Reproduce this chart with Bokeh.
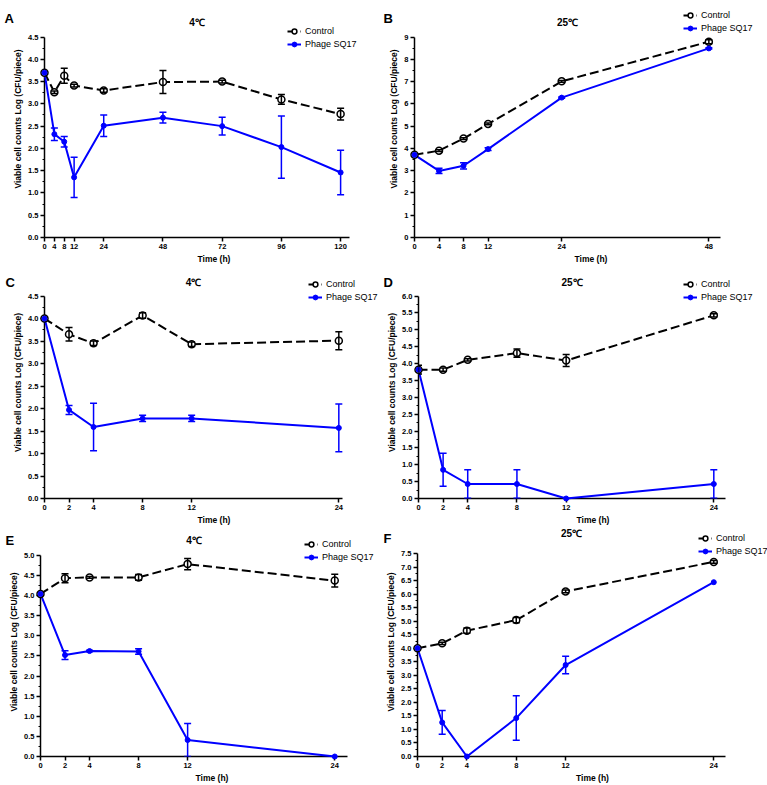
from bokeh.plotting import figure
from bokeh.models import (ColumnDataSource, Whisker, TeeHead, Legend, LegendItem,
                          Label, Range1d, FixedTicker, NumeralTickFormatter)
from bokeh.layouts import column, row
from bokeh.embed import file_html
from bokeh.resources import INLINE
from bokeh.core.properties import value

# ---------------- data ----------------
a_time = [0, 4, 8, 12, 24, 48, 72, 96, 120]
a_ctrl = [3.70, 3.26, 3.63, 3.41, 3.30, 3.49, 3.50, 3.10, 2.77]
a_ctrl_err = [0, 0.03, 0.17, 0.03, 0.04, 0.26, 0.03, 0.11, 0.13]
a_phage = [3.70, 2.32, 2.15, 1.35, 2.51, 2.69, 2.50, 2.03, 1.46]
a_phage_err = [0, 0.14, 0.12, 0.45, 0.24, 0.12, 0.20, 0.70, 0.50]
a_xticks = [0, 4, 8, 12, 24, 48, 72, 96, 120]
a_yticks = [0, 0.5, 1.0, 1.5, 2.0, 2.5, 3.0, 3.5, 4.0, 4.5]

b_time = [0, 4, 8, 12, 24, 48]
b_ctrl = [3.71, 3.90, 4.44, 5.10, 7.01, 8.79]
b_ctrl_err = [0, 0.04, 0.04, 0.04, 0.04, 0.09]
b_phage = [3.71, 2.99, 3.22, 3.97, 6.28, 8.49]
b_phage_err = [0, 0.12, 0.14, 0.06, 0.03, 0.03]
b_xticks = [0, 4, 8, 12, 24, 48]
b_yticks = [0, 1, 2, 3, 4, 5, 6, 7, 8, 9]

c_time = [0, 2, 4, 8, 12, 24]
c_ctrl = [4.00, 3.65, 3.45, 4.07, 3.43, 3.51]
c_ctrl_err = [0, 0.15, 0.05, 0.06, 0.05, 0.20]
c_phage = [4.00, 1.97, 1.59, 1.78, 1.78, 1.57]
c_phage_err = [0, 0.10, 0.53, 0.07, 0.07, 0.53]
c_xticks = [0, 2, 4, 8, 12, 24]
c_yticks = [0, 0.5, 1.0, 1.5, 2.0, 2.5, 3.0, 3.5, 4.0, 4.5]

d_time = [0, 2, 4, 8, 12, 24]
d_ctrl = [3.82, 3.82, 4.11, 4.31, 4.09, 5.43]
d_ctrl_err = [0.13, 0.05, 0.03, 0.12, 0.18, 0.05]
d_phage = [3.82, 0.85, 0.43, 0.43, 0.0, 0.43]
d_phage_err = [0, 0.49, 0.42, 0.42, 0, 0.42]
d_xticks = [0, 2, 4, 8, 12, 24]
d_yticks = [0, 0.5, 1.0, 1.5, 2.0, 2.5, 3.0, 3.5, 4.0, 4.5, 5.0, 5.5, 6.0]

e_time = [0, 2, 4, 8, 12, 24]
e_ctrl = [4.04, 4.43, 4.45, 4.45, 4.78, 4.37]
e_ctrl_err = [0, 0.11, 0.02, 0.07, 0.14, 0.16]
e_phage = [4.04, 2.52, 2.62, 2.61, 0.41, 0.0]
e_phage_err = [0, 0.11, 0.02, 0.07, 0.41, 0]
e_xticks = [0, 2, 4, 8, 12, 24]
e_yticks = [0, 0.5, 1.0, 1.5, 2.0, 2.5, 3.0, 3.5, 4.0, 4.5, 5.0]

f_time = [0, 2, 4, 8, 12, 24]
f_ctrl = [4.00, 4.18, 4.65, 5.04, 6.10, 7.19]
f_ctrl_err = [0, 0.04, 0.10, 0.10, 0.05, 0.05]
f_phage = [4.00, 1.26, 0.0, 1.42, 3.38, 6.44]
f_phage_err = [0, 0.44, 0, 0.82, 0.32, 0]
f_xticks = [0, 2, 4, 8, 12, 24]
f_yticks = [0, 0.5, 1.0, 1.5, 2.0, 2.5, 3.0, 3.5, 4.0, 4.5, 5.0, 5.5, 6.0, 6.5, 7.0, 7.5]

titles = ["4℃", "25℃", "4℃", "25℃", "4℃", "25℃"]
letters = ["A", "B", "C", "D", "E", "F"]
series_names = ["Control", "Phage SQ17"]
x_label = "Time (h)"
y_label = "Viable cell counts Log (CFU/piece)"

# ---------------- styling / geometry (pixels, local to each figure) ----------------
FONT = "Liberation Sans"
BLUE = "#0000ff"

# al/ar/at/ab: axis box edges; xmax: data value at axis right end
# ty: title centre y; lx/ly: letter x / baseline; gx/gy: legend top-left
GEOM = [
    dict(W=383, H=266, al=44, ar=349, at=37, ab=240, xmax=123.6, ty=22, lx=4, ly=18, gx=287, gy=28, yfmt="0.0"),
    dict(W=384, H=266, al=31, ar=337, at=37, ab=240, xmax=49.9, ty=22, lx=0, ly=18, gx=300, gy=12, yfmt="0"),
    dict(W=383, H=261, al=44, ar=342, at=30, ab=235, xmax=24.3, ty=16, lx=5, ly=16, gx=308, gy=15, yfmt="0.0"),
    dict(W=384, H=261, al=35, ar=342, at=30, ab=235, xmax=24.95, ty=16, lx=0, ly=16, gx=300, gy=15, yfmt="0.0"),
    dict(W=383, H=258, al=40, ar=347, at=28, ab=231, xmax=25.04, ty=13, lx=5, ly=13, gx=304, gy=13, yfmt="0.0"),
    dict(W=384, H=258, al=34, ar=342, at=26, ab=229, xmax=24.95, ty=6, lx=0, ly=11, gx=315, gy=5, yfmt="0.0"),
]


def whisker_source(t, y, err):
    idx = [i for i, e in enumerate(err) if e > 0]
    return ColumnDataSource(dict(
        x=[t[i] for i in idx],
        upper=[y[i] + err[i] for i in idx],
        lower=[max(0.0, y[i] - err[i]) for i in idx],
    ))


def make_panel(t, ctrl, ctrl_err, phage, phage_err, xticks, yticks, title, letter, g):
    W, H = g["W"], g["H"]
    al, ar, at, ab = g["al"], g["ar"], g["at"], g["ab"]
    xmax = g["xmax"]
    ymax = yticks[-1]
    pxu_x = (ar - al) / xmax
    pxu_y = (ab - at) / ymax
    x_end = xmax + (W - ar) / pxu_x
    y_end = ymax + at / pxu_y
    p = figure(width=W, height=H, output_backend="svg", toolbar_location=None, title=None,
               x_range=Range1d(0, x_end), y_range=Range1d(0, y_end),
               min_border_left=al, min_border_right=0,
               min_border_top=0, min_border_bottom=H - ab)
    p.outline_line_color = None
    p.xgrid.visible = False
    p.ygrid.visible = False
    p.background_fill_color = "white"
    p.border_fill_color = "white"

    # axes
    p.xaxis.ticker = FixedTicker(ticks=xticks, minor_ticks=[])
    ymid = [(yticks[i] + yticks[i + 1]) / 2 for i in range(len(yticks) - 1)]
    p.yaxis.ticker = FixedTicker(ticks=yticks, minor_ticks=ymid)
    p.yaxis.formatter = NumeralTickFormatter(format=g["yfmt"])
    p.xaxis.bounds = (0, xmax)
    p.yaxis.bounds = (0, ymax)
    p.xaxis.axis_label = x_label
    p.yaxis.axis_label = y_label
    for ax in (p.xaxis[0], p.yaxis[0]):
        ax.axis_line_color = "black"
        ax.axis_line_width = 1.5
        ax.major_tick_line_color = "black"
        ax.major_tick_line_width = 1.5
        ax.major_tick_out = 4
        ax.major_tick_in = 0
        ax.minor_tick_line_color = "black"
        ax.minor_tick_line_width = 1
        ax.minor_tick_out = 2
        ax.minor_tick_in = 0
        ax.major_label_text_font = FONT
        ax.major_label_text_font_style = "bold"
        ax.major_label_text_font_size = "7.5px"
        ax.major_label_text_color = "black"
        ax.major_label_standoff = 2
        ax.axis_label_text_font = FONT
        ax.axis_label_text_font_style = "bold"
        ax.axis_label_text_font_size = "8.5px"
        ax.axis_label_text_color = "black"
        ax.axis_label_standoff = 2

    cs = ColumnDataSource(dict(x=t, y=ctrl))
    ps = ColumnDataSource(dict(x=t, y=phage))

    lc = p.line("x", "y", source=cs, line_color="black", line_width=2,
                line_dash="9 4", level="overlay")
    lp = p.line("x", "y", source=ps, line_color=BLUE, line_width=2, level="overlay")

    wc = Whisker(source=whisker_source(t, ctrl, ctrl_err), base="x", upper="upper", lower="lower",
                 line_color="black", line_width=1.5, level="overlay",
                 upper_head=TeeHead(size=7, line_color="black", line_width=1.5),
                 lower_head=TeeHead(size=7, line_color="black", line_width=1.5))
    wp = Whisker(source=whisker_source(t, phage, phage_err), base="x", upper="upper", lower="lower",
                 line_color=BLUE, line_width=1.5, level="overlay",
                 upper_head=TeeHead(size=7, line_color=BLUE, line_width=1.5),
                 lower_head=TeeHead(size=7, line_color=BLUE, line_width=1.5))
    p.add_layout(wc)
    p.add_layout(wp)

    sc = p.scatter("x", "y", source=cs, marker="circle", size=7, fill_color="white",
                   line_color="black", line_width=1.5, level="overlay")
    sp = p.scatter("x", "y", source=ps, marker="circle", size=5, fill_color=BLUE,
                   line_color=BLUE, line_width=1, level="overlay")

    # legend (top-left given in local px; location is relative to frame bottom-left)
    leg_h = 12 * 2 + 1
    legend = Legend(items=[LegendItem(label=series_names[0], renderers=[lc, sc]),
                           LegendItem(label=series_names[1], renderers=[lp, sp])],
                    location=(g["gx"] - al, ab - g["gy"] - leg_h),
                    glyph_width=14, glyph_height=12, label_height=12, label_width=10,
                    label_standoff=4, spacing=1, padding=0, margin=0,
                    label_text_font=FONT, label_text_font_size="9px",
                    label_text_color="black",
                    border_line_alpha=0, background_fill_alpha=0)
    p.add_layout(legend)

    # panel title (inside the enlarged frame)
    p.add_layout(Label(x=xmax / 2, y=ymax + (at - g["ty"]) / pxu_y, text=title,
                       text_align="center", text_baseline="middle",
                       text_font=FONT, text_font_style="bold", text_font_size="10px",
                       text_color="black"))
    # panel letter (left of the frame, drawn as unclipped overlay text)
    p.text(x=[(g["lx"] - al) / pxu_x], y=[(ab - g["ly"]) / pxu_y], text=[letter],
           text_align="left", text_baseline="alphabetic",
           text_font=value(FONT), text_font_style="bold", text_font_size="13px",
           text_color="black", level="overlay")
    return p


panels = [
    make_panel(a_time, a_ctrl, a_ctrl_err, a_phage, a_phage_err, a_xticks, a_yticks, titles[0], letters[0], GEOM[0]),
    make_panel(b_time, b_ctrl, b_ctrl_err, b_phage, b_phage_err, b_xticks, b_yticks, titles[1], letters[1], GEOM[1]),
    make_panel(c_time, c_ctrl, c_ctrl_err, c_phage, c_phage_err, c_xticks, c_yticks, titles[2], letters[2], GEOM[2]),
    make_panel(d_time, d_ctrl, d_ctrl_err, d_phage, d_phage_err, d_xticks, d_yticks, titles[3], letters[3], GEOM[3]),
    make_panel(e_time, e_ctrl, e_ctrl_err, e_phage, e_phage_err, e_xticks, e_yticks, titles[4], letters[4], GEOM[4]),
    make_panel(f_time, f_ctrl, f_ctrl_err, f_phage, f_phage_err, f_xticks, f_yticks, titles[5], letters[5], GEOM[5]),
]

layout = column(row(panels[0], panels[1]), row(panels[2], panels[3]), row(panels[4], panels[5]))

open("out.html", "w").write(file_html(layout, INLINE))
